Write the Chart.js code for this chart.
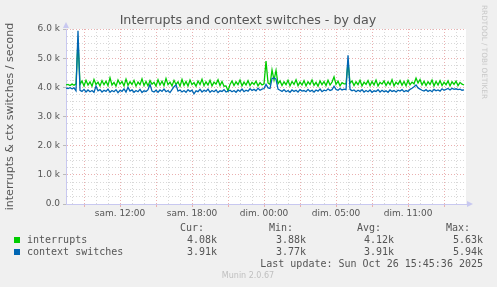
<!DOCTYPE html>
<html>
<head>
<meta charset="utf-8">
<script src="https://cdn.jsdelivr.net/npm/chart.js@4.4.0/dist/chart.umd.min.js"></script>
<style>
  html, body { margin: 0; padding: 0; background: #f0f0f0; }
  canvas { display: block; }
</style>
</head>
<body>
<canvas id="chart" width="497" height="287"></canvas>
<script>
// samples every 10 minutes, hour 0 = left edge (sam. 07:30)
const STEP_MINUTES = 10;
const SPAN_HOURS = 33.33;

// values in thousands per second
const interrupts = [
  4.08, 4.10, 4.06, 4.11, 4.07, 4.12, 5.63, 4.10, 4.22, 4.05,
  4.24, 4.08, 4.19, 4.04, 4.27, 4.10, 4.18, 4.05, 4.23, 4.09,
  4.21, 4.06, 4.33, 4.08, 4.17, 4.04, 4.25, 4.11, 4.20, 4.05,
  4.28, 4.07, 4.19, 4.10, 4.24, 4.04, 4.18, 4.09, 4.29, 4.06,
  4.20, 4.05, 4.23, 4.11, 4.17, 4.04, 4.26, 4.08, 4.21, 4.06,
  4.30, 4.09, 4.18, 4.05, 4.24, 4.10, 4.19, 4.04, 4.27, 4.07,
  4.20, 4.05, 4.25, 4.09, 4.16, 4.04, 4.22, 4.10, 4.28, 4.06,
  4.19, 4.08, 4.24, 4.05, 4.18, 4.11, 4.26, 4.06, 4.20, 4.04,
  4.05, 3.88, 4.10, 4.22, 4.06, 4.19, 4.09, 4.25, 4.05, 4.18,
  4.08, 4.23, 4.06, 4.17, 4.10, 4.21, 4.05, 4.16, 4.08, 4.12,
  4.90, 4.15, 4.10, 4.60, 4.25, 4.58, 4.12, 4.22, 4.06, 4.19,
  4.09, 4.24, 4.05, 4.20, 4.10, 4.26, 4.06, 4.18, 4.08, 4.23,
  4.05, 4.19, 4.10, 4.25, 4.07, 4.17, 4.04, 4.22, 4.09, 4.20,
  4.06, 4.24, 4.08, 4.18, 4.36, 4.10, 4.21, 4.05, 4.16, 4.12,
  4.12, 4.90, 4.14, 4.22, 4.06, 4.19, 4.09, 4.24, 4.05, 4.18,
  4.10, 4.23, 4.06, 4.20, 4.08, 4.25, 4.05, 4.17, 4.11, 4.22,
  4.06, 4.19, 4.09, 4.26, 4.05, 4.18, 4.10, 4.23, 4.07, 4.20,
  4.05, 4.24, 4.09, 4.18, 4.12, 4.32, 4.15, 4.27, 4.08, 4.21,
  4.06, 4.19, 4.10, 4.25, 4.05, 4.20, 4.08, 4.23, 4.06, 4.18,
  4.09, 4.22, 4.05, 4.19, 4.10, 4.21, 4.06, 4.17, 4.11, 4.08
];

const contextSwitches = [
  3.97, 3.96, 3.99, 3.95, 3.98, 3.88, 5.94, 3.90, 3.86, 3.93,
  3.84, 3.91, 3.85, 3.89, 3.83, 4.04, 3.88, 3.92, 3.84, 3.90,
  3.86, 3.94, 3.83, 3.89, 3.85, 3.92, 3.82, 3.90, 3.86, 3.95,
  3.84, 4.00, 3.87, 3.91, 3.83, 3.89, 3.85, 3.93, 3.82, 3.88,
  3.86, 3.92, 4.10, 3.87, 3.84, 3.90, 3.83, 3.91, 3.86, 3.94,
  3.85, 3.89, 3.82, 3.92, 4.02, 4.08, 3.87, 3.91, 3.84, 3.89,
  3.83, 3.92, 3.86, 3.90, 3.78, 3.88, 3.85, 3.93, 3.84, 3.90,
  3.86, 3.94, 3.83, 3.89, 3.85, 3.91, 3.82, 3.88, 3.86, 3.92,
  3.84, 3.87, 3.90, 3.85, 3.89, 3.83, 3.91, 3.86, 3.94, 3.85,
  3.90, 3.87, 3.95, 3.89, 3.93, 3.88, 3.97, 3.90, 3.94, 3.96,
  4.10, 3.98, 3.96, 4.30, 4.32, 4.28, 3.94, 3.90, 3.86, 3.92,
  3.85, 3.89, 3.83, 3.91, 3.86, 3.90, 3.84, 3.92, 3.87, 3.89,
  3.85, 3.93, 3.86, 3.90, 3.84, 3.91, 3.87, 3.94, 3.85, 3.90,
  3.88, 3.95, 3.89, 3.92, 4.04, 3.93, 3.90, 3.96, 3.91, 3.94,
  3.92, 5.10, 3.93, 3.88, 3.91, 3.85, 3.90, 3.86, 3.92, 3.84,
  3.89, 3.85, 3.91, 3.83, 3.88, 3.86, 3.92, 3.84, 3.90, 3.85,
  3.88, 3.83, 3.91, 3.86, 3.89, 3.84, 3.90, 3.87, 3.92, 3.85,
  3.89, 3.86, 3.93, 3.97, 4.02, 4.08, 3.98, 3.94, 3.90, 3.87,
  3.92, 3.86, 3.90, 3.85, 3.93, 3.88, 3.91, 3.87, 3.95, 3.90,
  3.93, 3.96, 3.91, 3.97, 3.93, 3.95, 3.92, 3.94, 3.90, 3.91
];

const xTickHours = [4.5, 10.5, 16.5, 22.5, 28.5];
const xTickLabels = ['sam. 12:00', 'sam. 18:00', 'dim. 00:00', 'dim. 05:00', 'dim. 11:00'];

const legendNames = ['interrupts', 'context switches'];
const legendColors = ['#00cc00', '#0066b3'];
const legendHeaders = ['Cur:', 'Min:', 'Avg:', 'Max:'];
const legendCur = ['4.08k', '3.91k'];
const legendMin = ['3.88k', '3.77k'];
const legendAvg = ['4.12k', '3.91k'];
const legendMax = ['5.63k', '5.94k'];

const MAJOR = '#eab0b0';
const MINOR = '#d8d8d8';
const AXIS = '#c8c8f0';

function toPoints(values) {
    return values.map((v, i) => ({ x: i * STEP_MINUTES / 60, y: v }));
}

const muninDecor = {
    id: 'muninDecor',
    beforeDraw(chart) {
        const { ctx, chartArea: a } = chart;
        ctx.save();
        ctx.fillStyle = '#f0f0f0';
        ctx.fillRect(0, 0, chart.width, chart.height);
        ctx.fillStyle = '#ffffff';
        ctx.fillRect(a.left, a.top, a.right - a.left, a.bottom - a.top);
        ctx.restore();
    },
    afterDraw(chart) {
        const { ctx, chartArea: a } = chart;
        ctx.save();

        // axis arrows
        ctx.fillStyle = AXIS;
        ctx.beginPath();
        ctx.moveTo(a.left - 3, a.top - 1);
        ctx.lineTo(a.left + 3, a.top - 1);
        ctx.lineTo(a.left, a.top - 7);
        ctx.fill();
        ctx.beginPath();
        ctx.moveTo(a.right + 1, a.bottom - 3);
        ctx.lineTo(a.right + 1, a.bottom + 3);
        ctx.lineTo(a.right + 7, a.bottom);
        ctx.fill();

        // title
        ctx.fillStyle = '#555';
        ctx.font = '12.7px "DejaVu Sans"';
        ctx.textAlign = 'center';
        ctx.textBaseline = 'alphabetic';
        ctx.fillText('Interrupts and context switches - by day', 248, 24);

        // side watermark
        ctx.save();
        ctx.translate(484, 5);
        ctx.rotate(Math.PI / 2);
        ctx.fillStyle = '#c8c8c8';
        ctx.font = '7.3px "DejaVu Sans"';
        ctx.textAlign = 'left';
        ctx.textBaseline = 'middle';
        ctx.fillText('RRDTOOL / TOBI OETIKER', 0, 0);
        ctx.restore();

        // legend table
        ctx.font = '10px "DejaVu Sans Mono"';
        ctx.fillStyle = '#555';
        ctx.textBaseline = 'middle';
        ctx.textAlign = 'right';
        const headerRight = [204, 293, 381, 470];
        const valueRight = [217, 306, 394, 483];
        legendHeaders.forEach((h, i) => ctx.fillText(h, headerRight[i], 228));

        const rows = [240, 252];
        legendNames.forEach((name, r) => {
            const y = rows[r];
            ctx.fillStyle = legendColors[r];
            ctx.fillRect(14, y - 3, 6, 6);
            ctx.fillStyle = '#555';
            ctx.textAlign = 'left';
            ctx.fillText(name, 27, y);
            ctx.textAlign = 'right';
            [legendCur, legendMin, legendAvg, legendMax].forEach((col, c) => {
                ctx.fillText(col[r], valueRight[c], y);
            });
        });
        ctx.fillText('Last update: Sun Oct 26 15:45:36 2025', 483, 264);

        ctx.fillStyle = '#c0c0c0';
        ctx.font = '8px "DejaVu Sans"';
        ctx.textAlign = 'center';
        ctx.fillText('Munin 2.0.67', 248, 276);

        ctx.restore();
    }
};

const ctx = document.getElementById('chart').getContext('2d');

new Chart(ctx, {
    type: 'line',
    data: {
        datasets: [
            {
                label: 'context switches',
                data: toPoints(contextSwitches),
                borderColor: legendColors[1],
                borderWidth: 1.3,
                order: 0
            },
            {
                label: 'interrupts',
                data: toPoints(interrupts),
                borderColor: legendColors[0],
                borderWidth: 1.3,
                order: 1
            }
        ]
    },
    options: {
        responsive: false,
        animation: false,
        devicePixelRatio: 1,
        layout: { padding: { top: 29, right: 31, left: 0, bottom: 0 } },
        elements: {
            point: { radius: 0 },
            line: { tension: 0 }
        },
        plugins: {
            legend: { display: false },
            title: { display: false },
            tooltip: { enabled: false }
        },
        scales: {
            x: {
                type: 'linear',
                min: 0,
                max: SPAN_HOURS,
                afterFit: (scale) => { scale.height = 83; },
                afterBuildTicks: (scale) => {
                    const ticks = [];
                    for (let h = 0.5; h < SPAN_HOURS; h += 1) ticks.push({ value: h });
                    scale.ticks = ticks;
                },
                grid: {
                    color: (c) => ((c.tick.value - 1.5) % 3 === 0 ? MAJOR : MINOR),
                    tickColor: (c) => ((c.tick.value - 1.5) % 3 === 0 ? MAJOR : 'rgba(0,0,0,0)'),
                    tickLength: 3
                },
                border: { color: AXIS, dash: [1, 2] },
                ticks: {
                    autoSkip: false,
                    maxRotation: 0,
                    padding: 1,
                    color: '#555',
                    font: { family: 'DejaVu Sans', size: 9 },
                    callback: (value) => {
                        const i = xTickHours.indexOf(value);
                        return i >= 0 ? xTickLabels[i] : '';
                    }
                }
            },
            y: {
                min: 0,
                max: 6,
                afterFit: (scale) => { scale.width = 66; },
                afterBuildTicks: (scale) => {
                    const ticks = [];
                    for (let v = 0; v <= 6; v += 0.25) ticks.push({ value: v });
                    scale.ticks = ticks;
                },
                grid: {
                    color: (c) => (c.tick.value % 1 === 0 ? MAJOR : MINOR),
                    tickColor: (c) => (c.tick.value % 1 === 0 ? '#bbb' : 'rgba(0,0,0,0)'),
                    tickLength: 3
                },
                border: { color: AXIS, dash: [1, 2] },
                title: {
                    display: true,
                    text: 'interrupts & ctx switches / second',
                    color: '#555',
                    font: { family: 'DejaVu Sans', size: 11 },
                    padding: { top: 4, bottom: 0 }
                },
                ticks: {
                    autoSkip: false,
                    padding: 3,
                    color: '#555',
                    font: { family: 'DejaVu Sans', size: 9 },
                    callback: (value) => {
                        if (value % 1 !== 0) return '';
                        return value === 0 ? '0.0' : value.toFixed(1) + ' k';
                    }
                }
            }
        }
    },
    plugins: [muninDecor]
});
</script>
</body>
</html>
